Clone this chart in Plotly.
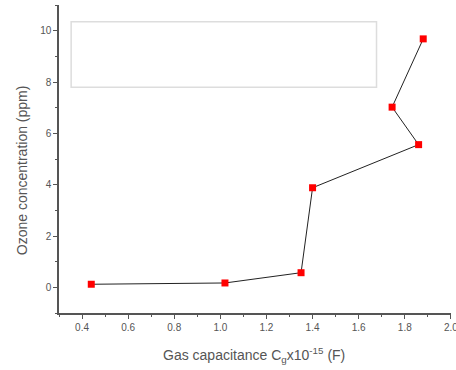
import plotly.graph_objects as go

capacitance = [0.44, 1.02, 1.35, 1.40, 1.86, 1.745, 1.88]
ozone = [0.12, 0.17, 0.57, 3.88, 5.56, 7.02, 9.68]

x_ticks = [0.4, 0.6, 0.8, 1.0, 1.2, 1.4, 1.6, 1.8, 2.0]
x_tick_labels = ["0.4", "0.6", "0.8", "1.0", "1.2", "1.4", "1.6", "1.8", "2.0"]
y_ticks = [0, 2, 4, 6, 8, 10]
y_tick_labels = ["0", "2", "4", "6", "8", "10"]

x_title = "Gas capacitance C<sub>g</sub>x10<sup>-15</sup> (F)"
y_title = "Ozone concentration (ppm)"

fig = go.Figure()
fig.add_trace(go.Scatter(
    x=capacitance, y=ozone, mode="lines+markers",
    line=dict(color="#222222", width=1),
    marker=dict(symbol="square", size=7, color="#ff0000"),
    showlegend=False,
))

axis_common = dict(
    showgrid=False, zeroline=False, showline=True, linecolor="#555555", linewidth=1.5,
    ticks="outside", ticklen=4, tickwidth=1, tickcolor="#555555",
    tickfont=dict(family="Liberation Sans, Arial", size=10, color="#555555"),
    ticklabeloverflow="allow", automargin=False,
)
title_font = dict(family="Liberation Sans, Arial", size=14, color="#555555")

fig.update_layout(
    width=456, height=370,
    margin=dict(l=59, r=5, t=5, b=57, autoexpand=False),
    plot_bgcolor="white", paper_bgcolor="white",
    xaxis=dict(range=[0.3, 2.0005], tickvals=x_ticks, ticktext=x_tick_labels,
               minor=dict(ticks="outside", ticklen=2, tickwidth=1, tickcolor="#555555", dtick=0.1, tick0=0.3),
               **axis_common),
    yaxis=dict(range=[-1, 11], tickvals=y_ticks, ticktext=y_tick_labels,
               minor=dict(ticks="outside", ticklen=2, tickwidth=1, tickcolor="#555555", dtick=1, tick0=-1),
               **axis_common),
    shapes=[dict(type="rect", xref="paper", yref="paper", x0=0.031, x1=0.81, y0=0.733, y1=0.946,
                 line=dict(color="#dddddd", width=1.5), fillcolor="rgba(0,0,0,0)")],
    annotations=[
        dict(text=x_title, xref="paper", yref="paper", x=0.497, y=-0.136,
             xanchor="center", yanchor="middle", showarrow=False, font=title_font),
        dict(text=y_title, xref="paper", yref="paper", x=-0.094, y=0.464, textangle=-90,
             xanchor="center", yanchor="middle", showarrow=False, font=title_font),
    ],
)

fig.write_html("out.html")
